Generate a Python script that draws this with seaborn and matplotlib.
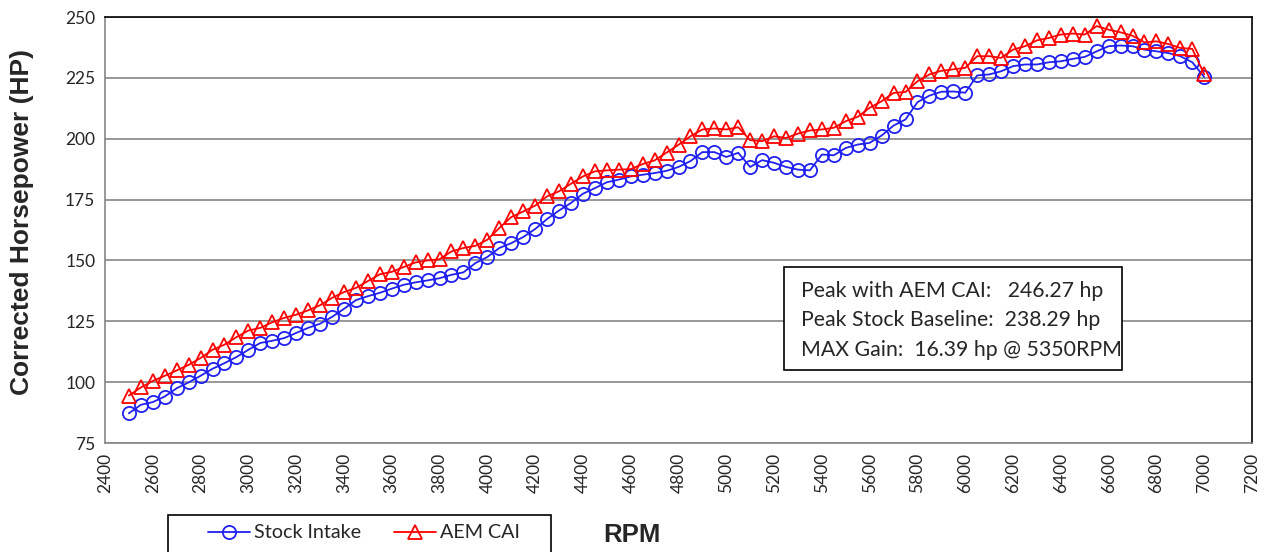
import numpy as np
import pandas as pd
import matplotlib
matplotlib.use("Agg")
import matplotlib.pyplot as plt
from matplotlib.patches import Rectangle
import seaborn as sns

# RPM points (every 50 rpm, 2500 - 7000)
rpm = np.arange(2500, 7001, 50)

stock_hp = [
    87.2, 90.7, 91.8, 94.1, 97.5, 99.9, 102.6, 105.5, 107.8, 110.3,
    113.3, 116.1, 117.0, 118.1, 120.2, 122.3, 124.0, 126.8, 130.1, 133.7,
    135.3, 136.7, 138.4, 140.0, 141.0, 141.8, 142.7, 144.1, 145.1, 148.9,
    151.4, 155.1, 157.1, 159.6, 162.9, 167.0, 170.5, 173.6, 177.4, 179.7,
    182.1, 183.2, 184.5, 185.2, 185.9, 186.8, 188.4, 190.8, 194.5, 194.5,
    192.5, 194.2, 188.4, 191.2, 190.1, 188.4, 187.3, 187.0, 193.5, 193.2,
    196.2, 197.6, 198.3, 201.3, 205.4, 207.9, 215.0, 217.7, 219.3, 219.4,
    218.9, 226.0, 226.4, 227.7, 229.8, 230.5, 230.5, 231.4, 231.8, 232.8,
    233.6, 235.9, 238.0, 238.29, 238.0, 236.6, 235.9, 235.2, 233.9, 231.4,
    225.4,
]

aem_hp = [
    94.5, 97.8, 100.5, 102.6, 104.8, 107.1, 109.9, 113.3, 115.4, 118.5,
    121.2, 122.3, 124.6, 126.4, 127.7, 129.5, 131.6, 134.6, 137.0, 138.7,
    141.5, 144.3, 145.3, 147.3, 149.2, 150.0, 150.5, 153.7, 155.1, 156.0,
    158.5, 163.3, 167.8, 170.1, 172.5, 176.3, 178.4, 181.5, 184.5, 186.6,
    187.0, 187.3, 187.5, 189.6, 191.1, 194.3, 197.5, 201.0, 203.8, 204.2,
    203.8, 204.7, 199.4, 199.0, 201.0, 200.3, 202.1, 203.39, 203.8, 204.5,
    207.2, 209.0, 212.7, 215.4, 218.8, 219.2, 223.6, 226.4, 227.9, 228.5,
    229.1, 233.9, 233.9, 233.2, 236.6, 238.0, 240.4, 241.4, 242.8, 243.2,
    242.8, 246.27, 244.8, 243.7, 242.3, 239.6, 240.0, 238.9, 237.3, 236.9,
    226.5,
]

summary_lines = [
    "Peak with AEM CAI:   246.27 hp",
    "Peak Stock Baseline:  238.29 hp",
    "MAX Gain:  16.39 hp @ 5350RPM",
]

x_ticks = np.arange(2400, 7201, 200)
y_ticks = np.arange(75, 251, 25)

df = pd.DataFrame({"RPM": rpm, "stock": stock_hp, "aem": aem_hp})

sns.set_style("white")
plt.rcParams["font.family"] = ["Lato", "DejaVu Sans"]

W, H = 1267, 552
grey = "#868686"
fig = plt.figure(figsize=(W / 100, H / 100), dpi=100)
ax = fig.add_axes([105 / W, 1 - 443 / H, (1252 - 105) / W, (443 - 17) / H])

sns.lineplot(data=df, x="RPM", y="stock", ax=ax, color="#2020F0", lw=1.3,
             marker="o", markersize=9.5, markerfacecolor="none",
             markeredgecolor="#2020F0", markeredgewidth=1.3, label="Stock Intake")
sns.lineplot(data=df, x="RPM", y="aem", ax=ax, color="#FF0000", lw=1.3,
             marker="^", markersize=10, markerfacecolor="none",
             markeredgecolor="#FF0000", markeredgewidth=1.3, label="AEM CAI")

ax.set_xlim(2400, 7200)
ax.set_ylim(75, 250)
ax.set_xticks(x_ticks)
ax.set_yticks(y_ticks)
ax.tick_params(axis="x", labelrotation=90)
ax.tick_params(direction="inout", length=6, width=1, color=grey, labelsize=12.5, pad=4)
ax.yaxis.grid(True, color=grey, lw=1.2)
ax.set_axisbelow(True)

for side in ["left", "bottom"]:
    ax.spines[side].set_color(grey)
    ax.spines[side].set_linewidth(1.2)
for side in ["top", "right"]:
    ax.spines[side].set_color("black")
    ax.spines[side].set_linewidth(1.2)

ax.set_xlabel("")
ax.set_ylabel("")
fig.text(22 / W, 1 - 222 / H, "Corrected Horsepower (HP)", rotation=90,
         ha="center", va="center", fontsize=19, fontweight="bold",
         family=["Liberation Sans", "DejaVu Sans"])
fig.text(632 / W, 1 - 535 / H, "RPM", ha="center", va="center",
         fontsize=18.5, fontweight="bold", family=["Liberation Sans", "DejaVu Sans"])

# summary box
fig.patches.append(Rectangle((784 / W, 1 - 370 / H), (1122 - 784) / W, (370 - 267) / H,
                             transform=fig.transFigure, facecolor="white",
                             edgecolor="black", lw=1.2, zorder=5))
for i, line in enumerate(summary_lines):
    fig.text(801 / W, 1 - (291 + 29.5 * i) / H, line, ha="left", va="center",
             fontsize=15.3, zorder=6)

# legend below the plot (box runs off the bottom edge)
fig.patches.append(Rectangle((168 / W, -0.05), (551 - 168) / W, 0.05 + 1 - 515 / H,
                             transform=fig.transFigure, facecolor="white",
                             edgecolor="black", lw=1.2, zorder=5))
handles, labels = ax.get_legend_handles_labels()
ax.get_legend().remove()
leg = fig.legend(handles, labels, loc="center", bbox_to_anchor=(364 / W, 1 - 533 / H),
                 ncol=2, frameon=False, fontsize=14.2, handlelength=2.1,
                 handletextpad=0.2, columnspacing=1.7, borderaxespad=0, borderpad=0)
leg.set_zorder(6)

fig.savefig("out.png", dpi=100)
